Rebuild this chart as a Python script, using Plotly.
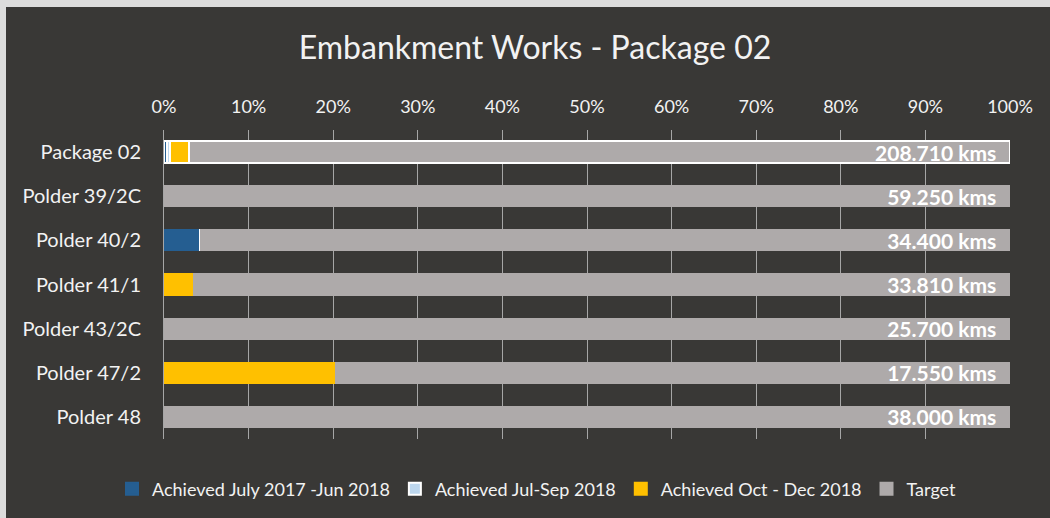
import plotly.graph_objects as go

categories = ["Package 02", "Polder 39/2C", "Polder 40/2", "Polder 41/1",
              "Polder 43/2C", "Polder 47/2", "Polder 48"]
achieved_2017_2018 = [0.003, 0.0, 0.042, 0.0, 0.0, 0.0, 0.0]
achieved_jul_sep_2018 = [0.004, 0.0, 0.0, 0.0, 0.0, 0.0, 0.0]
achieved_oct_dec_2018 = [0.022, 0.0, 0.0, 0.034, 0.0, 0.202, 0.0]
target_labels = ["208.710 kms", "59.250 kms", "34.400 kms", "33.810 kms",
                 "25.700 kms", "17.550 kms", "38.000 kms"]
target = [1 - a - b - c for a, b, c in zip(achieved_2017_2018, achieved_jul_sep_2018, achieved_oct_dec_2018)]
x_ticks = [i / 10 for i in range(11)]

series_names = ["Achieved July 2017 -Jun 2018", "Achieved Jul-Sep 2018",
                "Achieved Oct - Dec 2018", "Target"]
series_colors = ["#255e91", "#bdd7ee", "#ffc000", "#aeaaaa"]
series_values = [achieved_2017_2018, achieved_jul_sep_2018, achieved_oct_dec_2018, target]

BG = "#393836"
FONT = "Lato"
W, H = 1050, 518
ML, MR, MT, MB = 164, 40, 130, 79

highlight = [2 if c == "Package 02" else 0 for c in categories]

fig = go.Figure()
for name, color, vals in zip(series_names, series_colors, series_values):
    is_target = name == "Target"
    lw = [2] * len(categories) if name == "Achieved Jul-Sep 2018" else highlight
    fig.add_trace(go.Bar(
        y=categories, x=vals, orientation="h", name=name, showlegend=False,
        marker=dict(color=color, line=dict(color="white", width=lw)),
        text=target_labels if is_target else None,
        textposition="inside" if is_target else "none",
        insidetextanchor="end", constraintext="none",
        texttemplate="<b>%{text}</b>  " if is_target else None,
        textfont=dict(color="white", size=21, family=FONT),
        hoverinfo="skip",
    ))

# legend entries
for name, color in zip(series_names, series_colors):
    border = "white" if name == "Achieved Jul-Sep 2018" else color
    fig.add_trace(go.Bar(y=[None], x=[None], orientation="h", name=name,
                         marker=dict(color=color, line=dict(color=border, width=2))))

pw = W - ML - MR
ph = H - MT - MB
def px2x(px):
    return (px - ML) / pw
def py2y(py):
    return (H - MB - py) / ph

shapes = [
    dict(type="rect", xref="paper", yref="paper", layer="above",
         x0=px2x(0), x1=px2x(W), y0=py2y(7), y1=py2y(0),
         fillcolor="#dcdcdc", line=dict(width=0)),
    dict(type="rect", xref="paper", yref="paper", layer="above",
         x0=px2x(0), x1=px2x(6), y0=py2y(H), y1=py2y(0),
         fillcolor="#dcdcdc", line=dict(width=0)),
]

fig.update_layout(
    barmode="stack",
    bargap=0.5,
    width=W, height=H,
    margin=dict(l=ML, r=MR, t=MT, b=MB, autoexpand=False),
    paper_bgcolor=BG, plot_bgcolor=BG,
    font=dict(family=FONT, color="#f2f2f2"),
    title=dict(text="Embankment Works - Package 02", x=px2x(535), xanchor="center", xref="paper",
               y=1 - 48 / H, yanchor="middle",
               font=dict(size=32, color="#f2f2f2", family=FONT)),
    xaxis=dict(side="top", range=[0, 1], tickvals=x_ticks, tickformat=".0%",
               showgrid=True, gridcolor="#a6a6a6", gridwidth=1,
               zeroline=False, ticks="", ticklabelstandoff=12,
               tickfont=dict(size=18, color="#f2f2f2")),
    yaxis=dict(categoryorder="array", categoryarray=categories, autorange="reversed",
               showline=True, linecolor="#a6a6a6", linewidth=1, ticks="",
               ticklabelstandoff=18, tickfont=dict(size=20, color="#f2f2f2")),
    legend=dict(orientation="h", x=px2x(537), xanchor="center", y=py2y(489), yanchor="middle",
                font=dict(size=18, color="#f2f2f2"), itemwidth=30, traceorder="normal",
                bgcolor="rgba(0,0,0,0)"),
    shapes=shapes,
)

fig.write_html("out.html", config={"displayModeBar": False},
               post_script="document.body.style.margin='0';document.body.style.padding='0';")
